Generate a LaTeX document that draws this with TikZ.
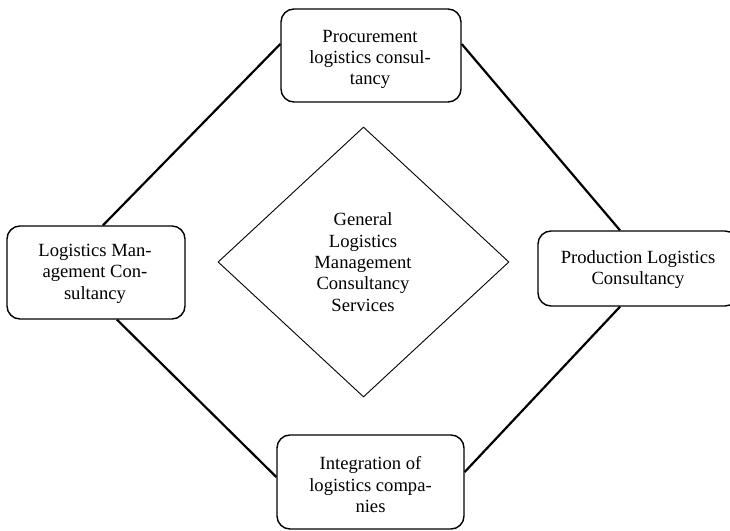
\documentclass[tikz,border=0pt]{standalone}
\usepackage{fontspec}
\setmainfont{Liberation Serif}
\usetikzlibrary{shapes.geometric}
\begin{document}
\begin{tikzpicture}[x=1bp,y=-1bp,
  boxstyle/.style={draw, line width=1.4bp, rounded corners=13bp, inner sep=0pt},
  txt/.style={align=center, inner sep=0pt, font=\fontsize{18.6bp}{21.3bp}\selectfont},
  link/.style={line width=2.2bp},
  ]
\useasboundingbox (0,0) rectangle (730,531);
% boxes
\node[boxstyle, minimum width=180bp, minimum height=93bp] (top) at (371,55.5) {};
\node[boxstyle, minimum width=178bp, minimum height=93bp] (left) at (96,272.5) {};
\node[boxstyle, minimum width=200bp, minimum height=75bp] (right) at (638,268.5) {};
\node[boxstyle, minimum width=187bp, minimum height=94bp] (bottom) at (370.5,482) {};
\node[draw, diamond, line width=0.9bp, inner sep=0pt, minimum width=291bp, minimum height=270bp] (center) at (363.5,262) {};
% texts
\node[txt] (topT) at (370,59.3) {Procurement\\logistics consul-\\tancy};
\node[txt] (leftT) at (95,273.6) {Logistics Man-\\agement Con-\\sultancy};
\node[txt] (rightT) at (638,269.6) {Production Logistics\\Consultancy};
\node[txt] (bottomT) at (370.5,484.6) {Integration of\\logistics compa-\\nies};
\node[txt] (centerT) at (363,262.1) {General\\Logistics\\Management\\Consultancy\\Services};
% connectors
\draw[link] ([yshift=11.5bp]top.west) -- ([xshift=7bp]left.north);
\draw[link] ([yshift=11.5bp]top.east) -- ([xshift=-18bp]right.north);
\draw[link] ([xshift=21bp]left.south) -- ([yshift=5bp]bottom.west);
\draw[link] ([xshift=-18bp]right.south) -- ([yshift=10bp]bottom.east);
\end{tikzpicture}
\end{document}
